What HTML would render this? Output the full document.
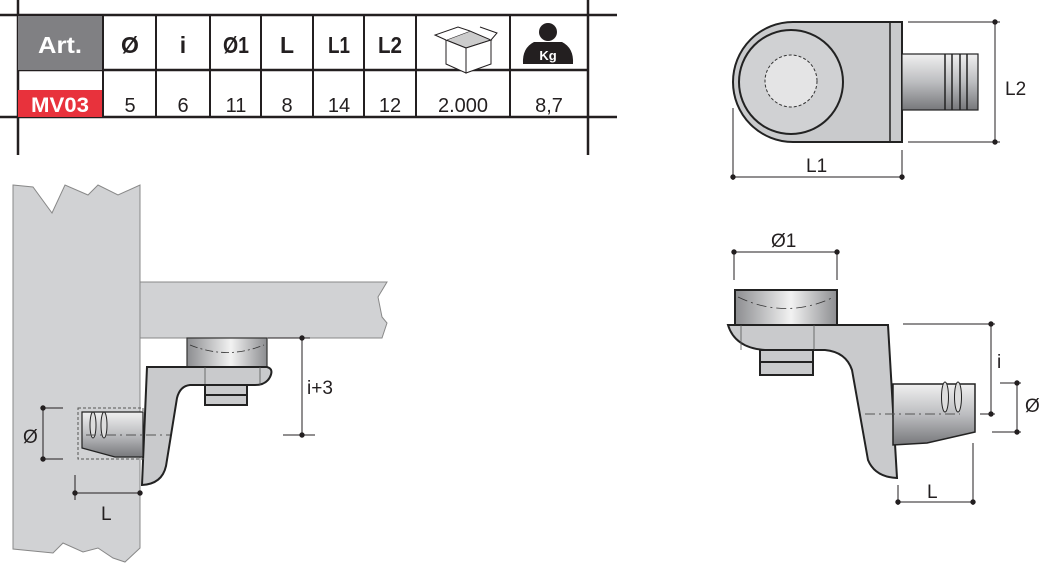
<!DOCTYPE html>
<html><head><meta charset="utf-8"><style>
html,body{margin:0;padding:0;background:#fff;width:1054px;height:568px;overflow:hidden}
svg{display:block;font-family:"Liberation Sans",sans-serif}
</style></head><body>
<svg width="1054" height="568" viewBox="0 0 1054 568" xmlns="http://www.w3.org/2000/svg">
<defs>
<linearGradient id="cyl" x1="0" y1="0" x2="1" y2="0">
<stop offset="0" stop-color="#8c8d90"/><stop offset="0.55" stop-color="#f2f2f2"/><stop offset="1" stop-color="#8c8d90"/></linearGradient>
<linearGradient id="pin" x1="0" y1="0" x2="0" y2="1">
<stop offset="0" stop-color="#f0f0f0"/><stop offset="0.5" stop-color="#bcbdc0"/><stop offset="1" stop-color="#77787b"/></linearGradient>
</defs>
<!-- TABLE -->
<g stroke="#231f20" stroke-width="2.5" fill="none">
<line x1="0" y1="15" x2="617" y2="15"/><line x1="0" y1="117" x2="617" y2="117"/>
<line x1="18" y1="0" x2="18" y2="155"/><line x1="588" y1="0" x2="588" y2="155"/>
<line x1="18" y1="70" x2="588" y2="70"/>
</g>
<rect x="18" y="16" width="85" height="54" fill="#808083"/>
<rect x="18" y="90" width="85" height="27" fill="#e8323c"/>
<g stroke="#231f20" stroke-width="2">
<line x1="103" y1="15" x2="103" y2="117"/><line x1="156" y1="15" x2="156" y2="117"/>
<line x1="210" y1="15" x2="210" y2="117"/><line x1="261" y1="15" x2="261" y2="117"/>
<line x1="313" y1="15" x2="313" y2="117"/><line x1="364" y1="15" x2="364" y2="117"/>
<line x1="416" y1="15" x2="416" y2="117"/><line x1="510" y1="15" x2="510" y2="117"/>
</g>
<g font-weight="bold" font-size="23" text-anchor="middle" fill="#231f20">
<text x="60" y="53" fill="#fff" textLength="44" lengthAdjust="spacingAndGlyphs">Art.</text>
<text x="130" y="53">Ø</text><text x="183" y="53">i</text><text x="236" y="53" textLength="26" lengthAdjust="spacingAndGlyphs">Ø1</text>
<text x="287" y="53">L</text><text x="339" y="53" textLength="22" lengthAdjust="spacingAndGlyphs">L1</text><text x="390" y="53" textLength="24" lengthAdjust="spacingAndGlyphs">L2</text>
<text x="60" y="112" fill="#fff" font-size="21" textLength="58" lengthAdjust="spacingAndGlyphs">MV03</text>
</g>
<g font-size="20" text-anchor="middle" fill="#231f20">
<text x="130" y="112">5</text><text x="183" y="112">6</text><text x="236" y="112">11</text>
<text x="287" y="112">8</text><text x="339" y="112">14</text><text x="390" y="112">12</text>
<text x="463" y="112">2.000</text><text x="549" y="112">8,7</text>
</g>
<!-- box icon -->
<g stroke="#231f20" stroke-width="1" fill="#fff">
<path d="M446,40 L470,31 L491,40 L466,48 Z" fill="#ccc"/>
<path d="M446,40 L466,48 L466,73 L446,64 Z"/>
<path d="M466,48 L491,40 L491,64 L466,73 Z"/>
<path d="M446,40 L435,35 L458,27 L470,31"/>
<path d="M491,40 L497,33 L480,27"/>
</g>
<!-- kg icon -->
<circle cx="548" cy="32" r="9" fill="#231f20"/>
<path d="M534,42 L562,42 Q574,48 573,64 L523,64 Q522,48 534,42 Z" fill="#231f20"/>
<text x="548" y="60" font-size="13" font-weight="bold" fill="#fff" text-anchor="middle">Kg</text>

<!-- LEFT DRAWING -->
<path d="M13,185 L33,187 L52,213 L65,185 L88,195 L98,185 L118,195 L140,185 L140,548 L125,562 L113,558 L98,548 L83,552 L63,543 L53,553 L13,549 Z" fill="#d1d2d4" stroke="#888" stroke-width="1"/>
<path d="M140,282 L387,282 L378,297 L382,317 L387,323 L382,338 L140,338 Z" fill="#d1d2d4" stroke="#888" stroke-width="1"/>
<rect x="187" y="338" width="80" height="30" fill="url(#cyl)" stroke="#333" stroke-width="1.2"/>
<path d="M190,345 Q227,360 264,345" fill="none" stroke="#333" stroke-width="0.8" stroke-dasharray="8,3,2,3"/>
<path d="M147,367 L267,367 Q274,369 270,377 Q266,385 255,385 L190,385 Q180,386 177,398 L166,466 Q162,484 142,485 Z" fill="#c9cacc" stroke="#222" stroke-width="2"/>
<line x1="205" y1="367" x2="205" y2="385" stroke="#555" stroke-width="0.8"/>
<line x1="260" y1="367" x2="260" y2="385" stroke="#555" stroke-width="0.8"/>
<rect x="205" y="385" width="42" height="20" fill="#c9cacc" stroke="#222" stroke-width="2"/>
<line x1="205" y1="395" x2="247" y2="395" stroke="#222" stroke-width="2"/>
<rect x="78" y="408" width="65" height="51" fill="none" stroke="#555" stroke-width="1" stroke-dasharray="3,2"/>
<path d="M82,412 L143,412 L143,457 L115,457 L82,448 Z" fill="url(#pin)" stroke="#222" stroke-width="1.2"/>
<ellipse cx="93" cy="425" rx="3" ry="13" fill="#ddd" stroke="#222"/>
<ellipse cx="104" cy="425" rx="3" ry="13" fill="#ddd" stroke="#222"/>
<line x1="86" y1="435" x2="170" y2="435" stroke="#555" stroke-dasharray="10,4,2,4"/>
<g stroke="#231f20" stroke-width="1" fill="#231f20">
<line x1="43" y1="408" x2="43" y2="459"/><line x1="43" y1="408" x2="63" y2="408"/><line x1="43" y1="459" x2="63" y2="459"/>
<circle cx="43" cy="408" r="2.2"/><circle cx="43" cy="459" r="2.2"/>
<line x1="75" y1="493" x2="140" y2="493"/><line x1="75" y1="475" x2="75" y2="500"/>
<circle cx="75" cy="493" r="2.2"/><circle cx="140" cy="493" r="2.2"/>
<line x1="302" y1="338" x2="302" y2="435"/><line x1="268" y1="338" x2="310" y2="338"/><line x1="283" y1="435" x2="315" y2="435"/>
<circle cx="302" cy="338" r="2.2"/><circle cx="302" cy="435" r="2.2"/>
</g>
<g font-size="19" fill="#231f20">
<text x="23" y="443">Ø</text><text x="101" y="520">L</text><text x="307" y="394">i+3</text>
</g>

<!-- TOP RIGHT -->
<path d="M793,22 L902,22 L902,142 L793,142 A60,60 0 0 1 793,22 Z" fill="#c9cacc" stroke="#222" stroke-width="2"/>
<line x1="890" y1="22" x2="890" y2="142" stroke="#222" stroke-width="1.5"/>
<circle cx="791" cy="82" r="52" fill="#d0d1d3" stroke="#222" stroke-width="2"/>
<circle cx="791" cy="81" r="26" fill="#e4e4e5" stroke="#333" stroke-width="1" stroke-dasharray="3,2"/>
<rect x="902" y="54" width="76" height="56" fill="url(#pin)" stroke="#222" stroke-width="1.2"/>
<g stroke="#222" stroke-width="1.5"><line x1="945" y1="54" x2="945" y2="110"/><line x1="952" y1="54" x2="952" y2="110"/><line x1="960" y1="54" x2="960" y2="110"/><line x1="967" y1="54" x2="967" y2="110"/></g>
<g stroke="#231f20" stroke-width="1" fill="#231f20">
<line x1="995" y1="22" x2="995" y2="142"/><line x1="908" y1="22" x2="1000" y2="22"/><line x1="908" y1="142" x2="1000" y2="142"/>
<circle cx="995" cy="22" r="2.2"/><circle cx="995" cy="142" r="2.2"/>
<line x1="733" y1="177" x2="902" y2="177"/><line x1="733" y1="108" x2="733" y2="180"/><line x1="902" y1="150" x2="902" y2="180"/>
<circle cx="733" cy="177" r="2.2"/><circle cx="902" cy="177" r="2.2"/>
</g>
<g font-size="19" fill="#231f20"><text x="1005" y="95">L2</text><text x="806" y="172">L1</text></g>

<!-- BOTTOM RIGHT -->
<rect x="735" y="290" width="102" height="35" fill="url(#cyl)" stroke="#222" stroke-width="2"/>
<path d="M738,297 Q786,320 834,297" fill="none" stroke="#333" stroke-width="0.8" stroke-dasharray="10,4,2,4"/>
<path d="M728,325 L888,325 L897,478 Q875,477 868,460 L852,370 Q846,352 825,350 L765,350 Q735,348 728,325 Z" fill="#c9cacc" stroke="#222" stroke-width="2"/>
<line x1="741" y1="325" x2="741" y2="350" stroke="#555" stroke-width="0.8"/>
<line x1="814" y1="325" x2="814" y2="350" stroke="#555" stroke-width="0.8"/>
<rect x="760" y="350" width="53" height="25" fill="#c9cacc" stroke="#222" stroke-width="2"/>
<line x1="760" y1="362" x2="813" y2="362" stroke="#222" stroke-width="2"/>
<path d="M893,384 L975,384 L975,432 L927,443 L893,445 Z" fill="url(#pin)" stroke="#222" stroke-width="1.5"/>
<ellipse cx="945" cy="397" rx="3.5" ry="15" fill="#ddd" stroke="#222"/>
<ellipse cx="958" cy="397" rx="3.5" ry="15" fill="#ddd" stroke="#222"/>
<line x1="865" y1="414" x2="960" y2="414" stroke="#555" stroke-dasharray="10,4,2,4"/>
<g stroke="#231f20" stroke-width="1" fill="#231f20">
<line x1="734" y1="252" x2="837" y2="252"/><line x1="734" y1="252" x2="734" y2="280"/><line x1="837" y1="252" x2="837" y2="280"/>
<circle cx="734" cy="252" r="2.2"/><circle cx="837" cy="252" r="2.2"/>
<line x1="991" y1="324" x2="991" y2="414"/><line x1="903" y1="324" x2="995" y2="324"/><line x1="980" y1="414" x2="995" y2="414"/>
<circle cx="991" cy="324" r="2.2"/><circle cx="991" cy="414" r="2.2"/>
<line x1="1017" y1="383" x2="1017" y2="432"/><line x1="1000" y1="383" x2="1021" y2="383"/><line x1="992" y1="432" x2="1021" y2="432"/>
<circle cx="1017" cy="383" r="2.2"/><circle cx="1017" cy="432" r="2.2"/>
<line x1="898" y1="502" x2="973" y2="502"/><line x1="973" y1="443" x2="973" y2="505"/><line x1="898" y1="485" x2="898" y2="505"/>
<circle cx="898" cy="502" r="2.2"/><circle cx="973" cy="502" r="2.2"/>
</g>
<g font-size="19" fill="#231f20">
<text x="771" y="247">Ø1</text><text x="997" y="368">i</text><text x="1025" y="412">Ø</text><text x="927" y="498">L</text>
</g>
</svg>
</body></html>
